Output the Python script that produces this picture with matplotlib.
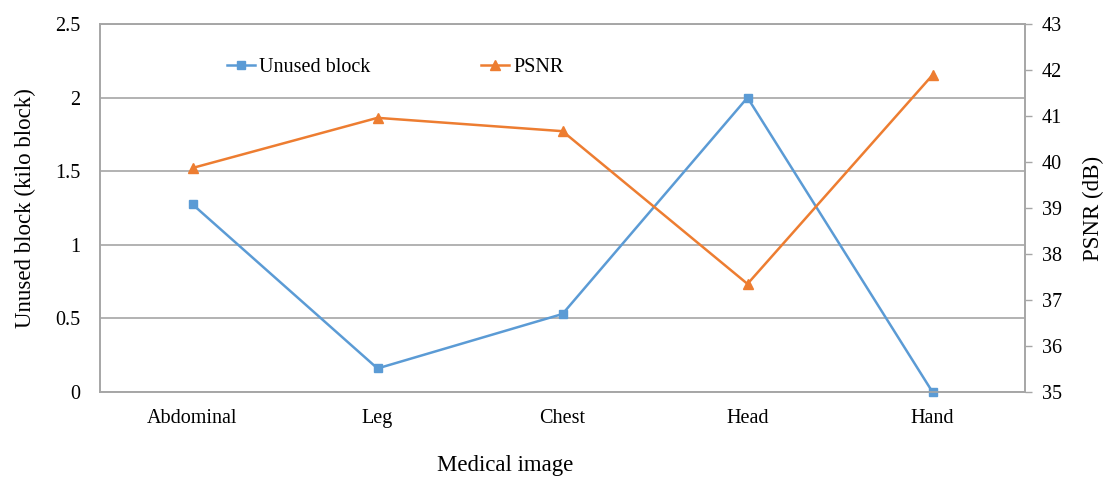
import matplotlib
matplotlib.use('Agg')
from matplotlib import pyplot as plt

categories = ['Abdominal', 'Leg', 'Chest', 'Head', 'Hand']
unused_block = [1.275, 0.16, 0.53, 2.0, 0.0]
psnr = [39.87, 40.96, 40.67, 37.35, 41.89]

blue = '#5B9BD5'
orange = '#ED7D31'
grid_col = '#A6A6A6'

plt.rcParams['font.family'] = ['Liberation Serif', 'DejaVu Serif']

fig = plt.figure(figsize=(11.04, 4.79), dpi=100)
ax = fig.add_axes([100 / 1104, 1 - 392 / 479, 925 / 1104, 368 / 479])
ax2 = ax.twinx()

x = list(range(len(categories)))
l1, = ax.plot(x, unused_block, color=blue, lw=1.8, marker='s', ms=5.5,
              label='Unused block', zorder=3, clip_on=False)
l2, = ax2.plot(x, psnr, color=orange, lw=1.8, marker='^', ms=6.5,
               label='PSNR', zorder=3, clip_on=False)

ax.set_xlim(-0.5, 4.5)
ax.set_ylim(0, 2.5)
ax.set_yticks([0, 0.5, 1, 1.5, 2, 2.5])
ax.set_yticklabels(['0', '0.5', '1', '1.5', '2', '2.5'])
ax2.set_ylim(35, 43)
ax2.set_yticks(range(35, 44))

ax.set_xticks(x)
ax.set_xticklabels(categories)
ax.grid(axis='y', color=grid_col, lw=1.2)
ax.set_axisbelow(True)

for a in (ax, ax2):
    for s in a.spines.values():
        s.set_color(grid_col)
        s.set_linewidth(1.2)

ax.tick_params(axis='y', length=0, pad=14, labelsize=14.5)
ax.tick_params(axis='x', length=0, pad=12, labelsize=14.5)
ax2.tick_params(axis='y', length=5, width=1, color=grid_col, pad=7, labelsize=14.5)

ax.set_xlabel('Medical image', fontsize=16.5)
ax.xaxis.set_label_coords(0.438, -0.172)
ax.set_ylabel('Unused block (kilo block)', fontsize=16.5, labelpad=14)
ax2.set_ylabel('PSNR (dB)', fontsize=16.5, labelpad=15)

ax.legend(handles=[l1, l2], loc='center left', bbox_to_anchor=(0.137, 0.883),
          ncol=2, frameon=False, fontsize=14.5, handlelength=1.4,
          handletextpad=0.2, columnspacing=5.5, borderpad=0, borderaxespad=0)

fig.savefig('out.png', dpi=100)
